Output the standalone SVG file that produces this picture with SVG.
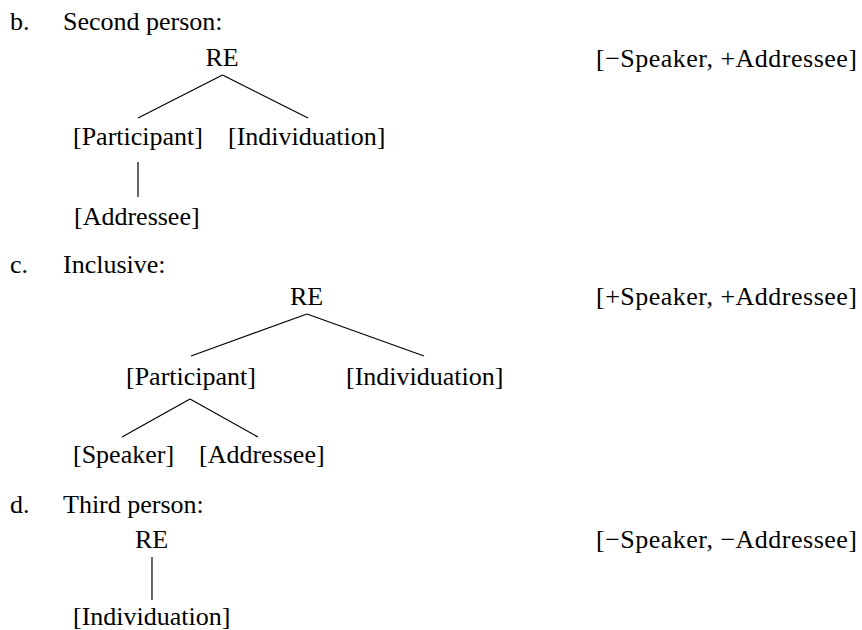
<svg xmlns="http://www.w3.org/2000/svg" width="862" height="630" viewBox="0 0 862 630">
<style>
text{font-family:"Liberation Serif","Times New Roman",serif;font-size:26px;fill:#000}
.m{text-anchor:middle}
#edges line{stroke:#000;stroke-width:1.2}
</style>
<rect width="862" height="630" fill="#fff"/>
<g id="labels">
<text x="10" y="30">b.</text><text x="63" y="30">Second person:</text>
<text x="10" y="273">c.</text><text x="63" y="273">Inclusive:</text>
<text x="10" y="513">d.</text><text x="63" y="513">Third person:</text>
<text x="596" y="67" textLength="261" lengthAdjust="spacing">[−Speaker, +Addressee]</text>
<text x="596" y="305" textLength="261" lengthAdjust="spacing">[+Speaker, +Addressee]</text>
<text x="596" y="548" textLength="261" lengthAdjust="spacing">[−Speaker, −Addressee]</text>
</g>
<g id="b-re"><text class="m" x="222" y="66">RE</text></g>
<g id="b-participant"><text x="73" y="145">[Participant]</text></g>
<g id="b-individuation"><text x="228" y="145">[Individuation]</text></g>
<g id="b-addressee"><text x="74" y="225">[Addressee]</text></g>
<g id="c-re"><text class="m" x="306.5" y="305">RE</text></g>
<g id="c-participant"><text x="126" y="385">[Participant]</text></g>
<g id="c-individuation"><text x="346" y="385">[Individuation]</text></g>
<g id="c-speaker"><text x="73" y="463">[Speaker]</text></g>
<g id="c-addressee"><text x="199" y="463">[Addressee]</text></g>
<g id="d-re"><text class="m" x="151.5" y="548">RE</text></g>
<g id="d-individuation"><text x="73" y="625">[Individuation]</text></g>
<g id="edges">
<line x1="222.5" y1="75" x2="138" y2="118"/>
<line x1="222.5" y1="75" x2="308" y2="118"/>
<line x1="138" y1="162" x2="138" y2="197"/>
<line x1="307" y1="314" x2="191" y2="356"/>
<line x1="307" y1="314" x2="424" y2="356"/>
<line x1="190" y1="399" x2="122" y2="437"/>
<line x1="190" y1="399" x2="258" y2="437"/>
<line x1="152" y1="557" x2="152" y2="600"/>
</g>
</svg>
